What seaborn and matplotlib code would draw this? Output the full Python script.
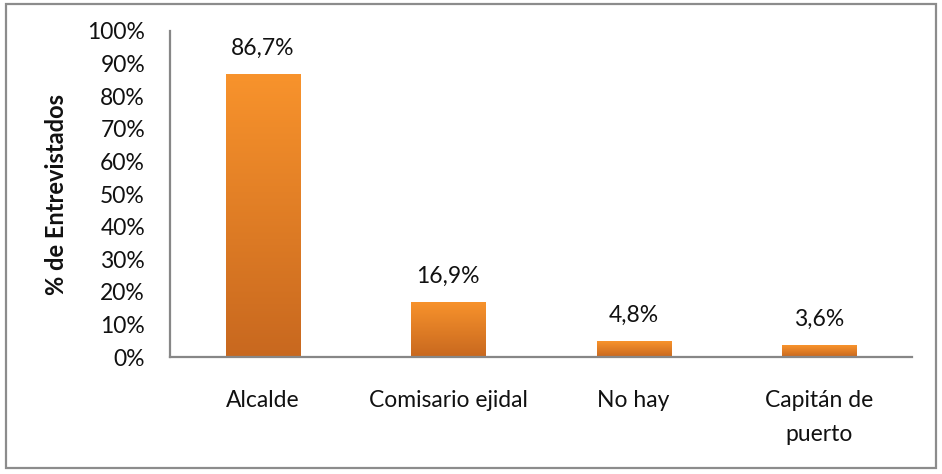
import numpy as np
import pandas as pd
import matplotlib
matplotlib.use("Agg")
import matplotlib.pyplot as plt
from matplotlib.colors import LinearSegmentedColormap
from matplotlib.patches import Rectangle
import seaborn as sns

categorias = ["Alcalde", "Comisario ejidal", "No hay", "Capitán de\npuerto"]
porcentajes = [86.7, 16.9, 4.8, 3.6]
etiquetas = ["86,7%", "16,9%", "4,8%", "3,6%"]
yticks = [0, 10, 20, 30, 40, 50, 60, 70, 80, 90, 100]

sns.set_theme(style="white")
plt.rcParams["font.family"] = ["Lato", "DejaVu Sans"]

df = pd.DataFrame({"categoria": categorias, "valor": porcentajes})

fig = plt.figure(figsize=(9.42, 4.74), dpi=100)
ax = fig.add_axes([0.1805, 0.2468, 0.968 - 0.1805, 0.9346 - 0.2468])

sns.barplot(data=df, x="categoria", y="valor", ax=ax, width=0.4,
            color="#E8822A", edgecolor="none", saturation=1)

# vertical orange gradient inside every bar
grad = LinearSegmentedColormap.from_list("naranja", ["#C8681F", "#F8932C"])
gimg = np.linspace(0, 1, 256).reshape(-1, 1)
for p in ax.patches:
    x0, y0 = p.get_x(), p.get_y()
    w, h = p.get_width(), p.get_height()
    im = ax.imshow(gimg, cmap=grad, origin="lower", aspect="auto",
                   extent=[x0, x0 + w, y0, y0 + h], zorder=p.get_zorder() + 0.1)
    im.set_clip_path(p)

ax.set_xlim(-0.5, len(categorias) - 0.5)
ax.set_ylim(0, 100)
ax.set_yticks(yticks)
ax.set_yticklabels([f"{v}%" for v in yticks], fontsize=16.5, color="#111111")
ax.tick_params(axis="y", length=0, pad=18)
ax.tick_params(axis="x", length=0, pad=24, labelsize=16.5, labelcolor="#111111")
for lab in ax.get_xticklabels():
    lab.set_linespacing(1.75)
ax.set_xlabel("")
ax.set_ylabel("% de Entrevistados", fontsize=17, fontweight="bold",
              color="#111111", labelpad=14)

for i, (v, t) in enumerate(zip(porcentajes, etiquetas)):
    ax.annotate(t, (i, v), xytext=(0, 11), textcoords="offset points",
                ha="center", va="bottom", fontsize=16.5, color="#111111")

for s in ["top", "right"]:
    ax.spines[s].set_visible(False)
for s in ["left", "bottom"]:
    ax.spines[s].set_color("#878787")
    ax.spines[s].set_linewidth(1.6)

# outer frame of the chart area
fig.patches.append(Rectangle((6 / 942, 6 / 474), 930 / 942, 464 / 474,
                             transform=fig.transFigure, fill=False,
                             edgecolor="#8C8C8C", linewidth=1.6))

fig.savefig("out.png", dpi=100)
